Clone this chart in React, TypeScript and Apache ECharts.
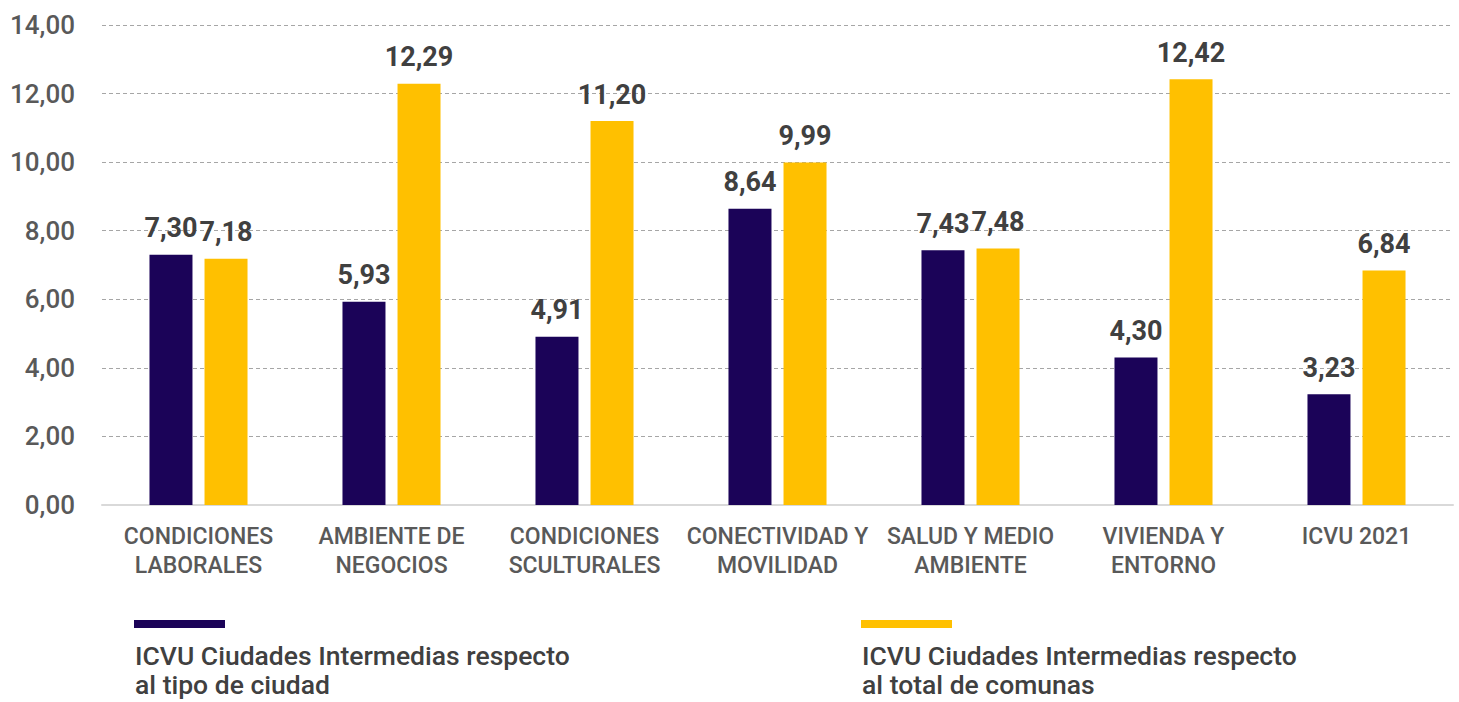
import React, { useEffect, useRef } from "react";
import * as echarts from "echarts";

const categories = [
  "CONDICIONES\nLABORALES",
  "AMBIENTE DE\nNEGOCIOS",
  "CONDICIONES\nSCULTURALES",
  "CONECTIVIDAD Y\nMOVILIDAD",
  "SALUD Y MEDIO\nAMBIENTE",
  "VIVIENDA Y\nENTORNO",
  "ICVU 2021",
];
const seriesTipo = [7.3, 5.93, 4.91, 8.64, 7.43, 4.3, 3.23];
const seriesTotal = [7.18, 12.29, 11.2, 9.99, 7.48, 12.42, 6.84];
const seriesNames = [
  "ICVU Ciudades Intermedias respecto\nal tipo de ciudad",
  "ICVU Ciudades Intermedias respecto\nal total de comunas",
];
const yTicks = { min: 0, max: 14, interval: 2 };

const DARK = "#1B0358";
const YELLOW = "#FFC000";
const FONT = "Roboto";

const fmt = (v: number) => v.toFixed(2).replace(".", ",");

export default function App() {
  const ref = useRef<HTMLDivElement>(null);
  useEffect(() => {
    document.body.style.margin = "0";
    const chart = echarts.init(ref.current!, undefined, { renderer: "svg" });
    const label = {
      show: true,
      position: "top",
      distance: 13,
      fontFamily: FONT,
      fontWeight: "bold",
      fontSize: 27,
      color: "#404040",
      formatter: (p: any) => fmt(p.value),
    };
    chart.setOption({
      animation: false,
      textStyle: { fontFamily: FONT },
      grid: { left: 102, right: 6, top: 25, bottom: 197, containLabel: false },
      xAxis: {
        type: "category",
        data: categories,
        axisLine: { lineStyle: { color: "#d9d9d9", width: 2 } },
        axisTick: { show: false },
        axisLabel: {
          interval: 0,
          margin: 17,
          fontFamily: FONT,
          fontWeight: 500,
          fontSize: 23,
          lineHeight: 29,
          color: "#595959",
        },
      },
      yAxis: {
        type: "value",
        min: yTicks.min,
        max: yTicks.max,
        interval: yTicks.interval,
        axisLine: { show: false },
        axisTick: { show: false },
        splitLine: { lineStyle: { color: "#a6a6a6", type: [4, 3], width: 1 } },
        axisLabel: {
          margin: 27,
          fontFamily: FONT,
          fontWeight: 500,
          fontSize: 26,
          color: "#595959",
          formatter: (v: number) => fmt(v),
        },
      },
      series: [
        {
          name: seriesNames[0],
          type: "bar",
          data: seriesTipo,
          barWidth: 43,
          barGap: "28%",
          itemStyle: { color: DARK },
          label,
        },
        {
          name: seriesNames[1],
          type: "bar",
          data: seriesTotal,
          barWidth: 43,
          barGap: "28%",
          itemStyle: { color: YELLOW },
          label,
        },
      ],
      graphic: [
        { type: "rect", left: 134, top: 620, shape: { width: 91, height: 8 }, style: { fill: DARK } },
        {
          type: "text",
          left: 135,
          top: 641,
          style: {
            text: seriesNames[0],
            fontFamily: FONT,
            fontWeight: 500,
            fontSize: 26.5,
            lineHeight: 29,
            fill: "#404040",
          },
        },
        { type: "rect", left: 861, top: 620, shape: { width: 91, height: 8 }, style: { fill: YELLOW } },
        {
          type: "text",
          left: 862,
          top: 641,
          style: {
            text: seriesNames[1],
            fontFamily: FONT,
            fontWeight: 500,
            fontSize: 26.5,
            lineHeight: 29,
            fill: "#404040",
          },
        },
      ],
    });
    return () => chart.dispose();
  }, []);
  return <div ref={ref} style={{ width: 1459, height: 702 }} />;
}
